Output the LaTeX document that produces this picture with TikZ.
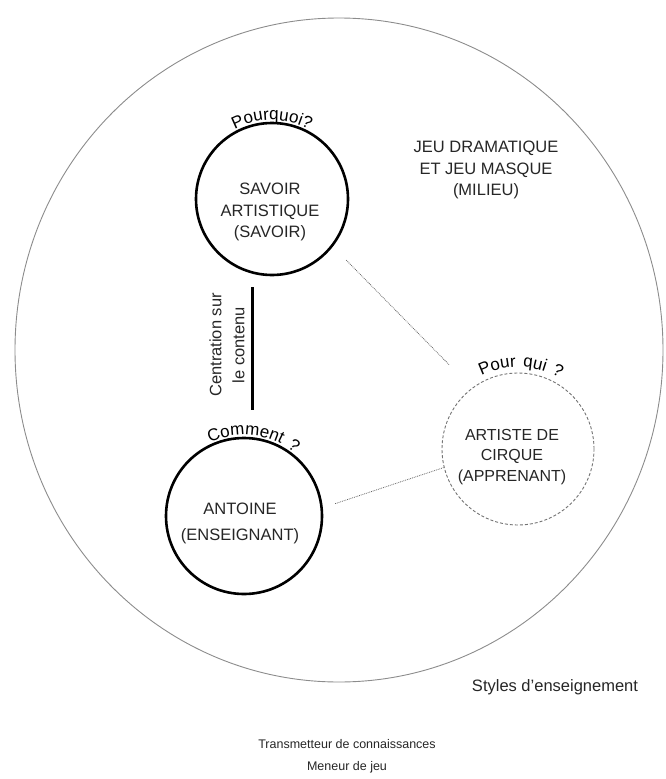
\documentclass[tikz,border=0pt]{standalone}
\usepackage{fontspec}
\setmainfont{Liberation Sans}
\newfontfamily\arcfamily[LetterSpace=12]{Liberation Sans}
\usetikzlibrary{decorations.text}
\newcommand{\arcfont}{\arcfamily\fontsize{17}{17}\selectfont}

\begin{document}
\begin{tikzpicture}[x=1pt,y=-1pt,
    every node/.style={font=\fontsize{16.5}{21.5}\selectfont, text=black!85},
    pole/.style={circle, draw, line width=2.6pt, minimum size=#1, inner sep=0pt},
    pole/.default=152pt,
    apprenant/.style={line width=0.9pt, draw=black!55, densely dashed},
    milieu/.style={draw=black!45, line width=0.9pt},
    link/.style={draw=black!60, line width=0.8pt, densely dotted},
    arclabel/.style={decorate, decoration={text along path, text align=center,
      text={|\arcfont|#1}}}]
  \useasboundingbox (0,0) rectangle (666,779);
  \draw[milieu] (339,350) ellipse [x radius=324pt, y radius=332pt];
  \node[pole] (savoir) at (272,199) {};
  \node[pole=156pt] (antoine) at (244,516) {};
  \node[pole, apprenant] (artiste) at (518,449) {};
  \node[align=center] (savoirtxt) at (270,212) {SAVOIR\\ARTISTIQUE\\(SAVOIR)};
  \node[align=center, font=\fontsize{16.5}{26}\selectfont] (antoinetxt) at (240,523) {ANTOINE\\(ENSEIGNANT)};
  \node[align=center, font=\fontsize{16}{20.5}\selectfont] (artistetxt) at (512,457) {ARTISTE DE\\CIRQUE\\(APPRENANT)};
  \node[align=center] (milieutxt) at (486,170) {JEU DRAMATIQUE\\ET JEU MASQUE\\(MILIEU)};
  \path[arclabel={Pourquoi?}] (savoir.center) ++(155:79pt) arc[start angle=155, end angle=25, radius=79pt];
  \path[arclabel={Comment ?}] (antoine.center) ++(148:81pt) arc[start angle=148, end angle=18, radius=81pt];
  \path[arclabel={Pour qui ?}] (artiste.center) ++(153:82pt) arc[start angle=153, end angle=23, radius=82pt];
  \coordinate (ctop) at (252,287);
  \coordinate (cbot) at (252,410);
  \draw[line width=3pt] (ctop) -- (cbot);
  \node[rotate=90, align=center, font=\fontsize{16.5}{23}\selectfont] (centration) at (227,345) {Centration sur\\le contenu};
  \draw[link, shorten <=19pt, shorten >=32pt] (savoir.-38) -- (artiste.127);
  \draw[link, shorten <=13pt] (antoine.6) -- (artiste.194);
  \node[font=\fontsize{16.5}{16.5}\selectfont] (styles) at (555,687) {Styles d'enseignement};
  \node[align=center, font=\fontsize{12.5}{22}\selectfont] (roles) at (347,756) {Transmetteur de connaissances\\Meneur de jeu};
\end{tikzpicture}
\end{document}
